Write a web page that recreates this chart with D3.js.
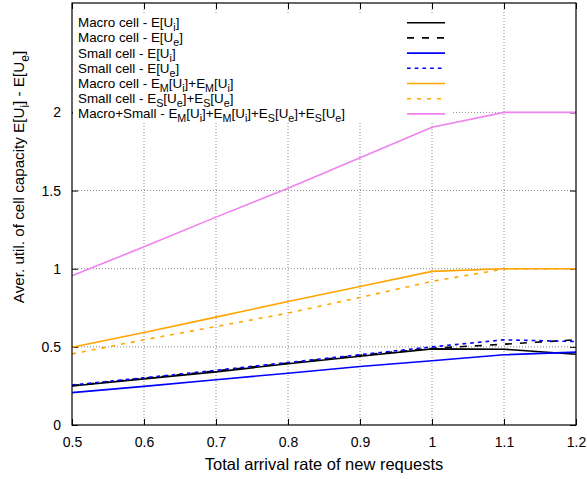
<!DOCTYPE html>
<html>
<head>
<meta charset="utf-8">
<script src="https://d3js.org/d3.v7.min.js"></script>
<style>
body { margin: 0; background: #fff; }
text { font-family: "Liberation Sans", Arial, Helvetica, sans-serif; fill: #000; }
</style>
</head>
<body>
<svg id="chart"></svg>
<script>
var rates = [0.5, 0.6, 0.7, 0.8, 0.9, 1.0, 1.1, 1.2];
var macroUi = [0.25, 0.295, 0.34, 0.392, 0.44, 0.487, 0.485, 0.453];
var macroUe = [0.252, 0.299, 0.346, 0.396, 0.446, 0.491, 0.517, 0.545];
var smallUi = [0.207, 0.247, 0.29, 0.331, 0.374, 0.411, 0.449, 0.466];
var smallUe = [0.256, 0.302, 0.35, 0.4, 0.45, 0.5, 0.545, 0.534];
var macroSum = [0.498, 0.592, 0.69, 0.79, 0.886, 0.983, 1.0, 1.0];
var smallSum = [0.455, 0.545, 0.63, 0.716, 0.816, 0.919, 0.998, 1.0];
var totalSum = [0.955, 1.14, 1.33, 1.515, 1.71, 1.905, 2.0, 2.0];
var xTicks = [0.5, 0.6, 0.7, 0.8, 0.9, 1.0, 1.1, 1.2];
var yTicks = [0, 0.5, 1, 1.5, 2];

var series = [
    {label: "Macro cell - E[U_i]", values: macroUi, color: "#000000", dash: null},
    {label: "Macro cell - E[U_e]", values: macroUe, color: "#000000", dash: "7,8"},
    {label: "Small cell - E[U_i]", values: smallUi, color: "#0000ff", dash: null},
    {label: "Small cell - E[U_e]", values: smallUe, color: "#0000ff", dash: "3.7,4"},
    {label: "Macro cell - E_M[U_i]+E_M[U_i]", values: macroSum, color: "#ffa500", dash: null},
    {label: "Small cell - E_S[U_e]+E_S[U_e]", values: smallSum, color: "#ffa500", dash: "4,6"},
    {label: "Macro+Small - E_M[U_i]+E_M[U_i]+E_S[U_e]+E_S[U_e]", values: totalSum, color: "#ee82ee", dash: null}
];

var width = 587, height = 479;
var margin = {top: 3, right: 11, bottom: 54, left: 72};
var innerwidth = width - margin.left - margin.right,
    innerheight = height - margin.top - margin.bottom;

var x = d3.scaleLinear().domain([0.5, 1.2]).range([0, innerwidth]);
var y = d3.scaleLinear().domain([0, 2.7]).range([innerheight, 0]);

var svg = d3.select("#chart")
    .attr("width", width)
    .attr("height", height);

// writes "E_M[U_i]" style strings with subscripts
function enhanced(sel, str, size) {
    var parts = str.split(/(_.)/).filter(p => p);
    var shift = 0;
    parts.forEach(function(p) {
        if (p[0] == "_") {
            sel.append("tspan").attr("dy", size * 0.3 - shift).attr("font-size", size * 0.8).text(p[1]);
            shift = size * 0.3;
        } else {
            sel.append("tspan").attr("dy", -shift).attr("font-size", size).text(p);
            shift = 0;
        }
    });
}

var g = svg.append("g")
    .attr("transform", "translate(" + margin.left + "," + margin.top + ")");

// grid
g.append("g").selectAll("line")
    .data(xTicks.slice(1, -1))
    .join("line")
    .attr("x1", d => x(d)).attr("x2", d => x(d))
    .attr("y1", 0).attr("y2", innerheight)
    .attr("stroke", "#888").attr("stroke-width", 1).attr("stroke-dasharray", "1,2");
g.append("g").selectAll("line")
    .data(yTicks.slice(1))
    .join("line")
    .attr("x1", 0).attr("x2", innerwidth)
    .attr("y1", d => y(d)).attr("y2", d => y(d))
    .attr("stroke", "#888").attr("stroke-width", 1).attr("stroke-dasharray", "1,2");

// axes with inward ticks
var xAxis = d3.axisBottom(x).tickValues(xTicks).tickSize(-6).tickPadding(12)
    .tickFormat(d3.format("~g")).tickSizeOuter(0);
var yAxis = d3.axisLeft(y).tickValues(yTicks).tickSize(-6).tickPadding(11)
    .tickFormat(d3.format("~g")).tickSizeOuter(0);

g.append("g")
    .attr("transform", "translate(0," + innerheight + ")")
    .call(xAxis);
g.append("g").call(yAxis);
g.append("g")
    .call(d3.axisTop(x).tickValues(xTicks).tickSize(-6).tickFormat("").tickSizeOuter(0));
g.append("g")
    .attr("transform", "translate(" + innerwidth + ",0)")
    .call(d3.axisRight(y).tickValues(yTicks).tickSize(-6).tickFormat("").tickSizeOuter(0));

g.selectAll(".domain").remove();
g.selectAll(".tick line").attr("stroke", "#000");
g.selectAll(".tick text")
    .attr("font-size", 14)
    .attr("font-family", "Liberation Sans, Arial, sans-serif");

// legend box (opaque)
var legend = g.append("g");
legend.append("rect")
    .attr("x", 1).attr("y", 10)
    .attr("width", 380).attr("height", 109)
    .attr("fill", "#fff");

// lines
var line = d3.line()
    .x((d, i) => x(rates[i]))
    .y(d => y(d));

g.append("g").selectAll("path")
    .data(series)
    .join("path")
    .attr("d", d => line(d.values))
    .attr("fill", "none")
    .attr("stroke", d => d.color)
    .attr("stroke-width", 1.6)
    .attr("stroke-dasharray", d => d.dash);

var rows = legend.selectAll("g.row")
    .data(series)
    .join("g")
    .attr("class", "row")
    .attr("transform", (d, i) => "translate(0," + (19.7 + i * 15.2) + ")");

rows.append("line")
    .attr("x1", 335).attr("x2", 373)
    .attr("y1", 0).attr("y2", 0)
    .attr("stroke", d => d.color)
    .attr("stroke-width", 1.6)
    .attr("stroke-dasharray", d => d.dash);

rows.append("text")
    .attr("x", 6)
    .attr("y", 4.5)
    .each(function(d) { enhanced(d3.select(this), d.label, 13.4); });

// border
g.append("rect")
    .attr("width", innerwidth).attr("height", innerheight)
    .attr("fill", "none").attr("stroke", "#000").attr("stroke-width", 1.2);

// axis titles
svg.append("text")
    .attr("x", margin.left + innerwidth / 2)
    .attr("y", 470)
    .attr("text-anchor", "middle")
    .attr("font-size", 16.5)
    .text("Total arrival rate of new requests");

var ylab = svg.append("text")
    .attr("transform", "translate(24,177) rotate(-90)")
    .attr("text-anchor", "middle");
enhanced(ylab, "Aver. util. of cell capacity E[U_i] - E[U_e]", 15.2);
</script>
</body>
</html>
